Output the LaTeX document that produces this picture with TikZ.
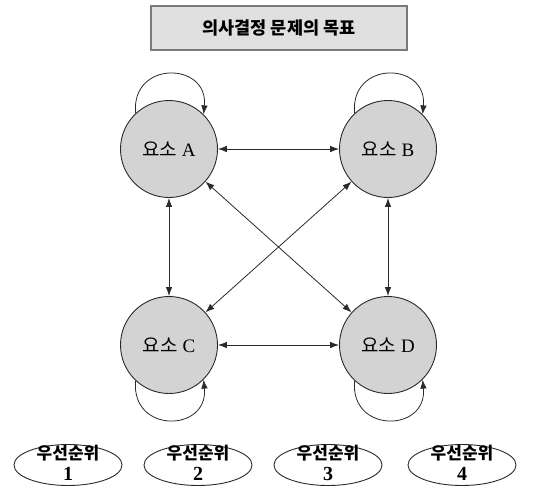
\documentclass[tikz,border=0pt]{standalone}
\usepackage{fontspec}
\setmainfont{Liberation Serif}
\newfontfamily\kr{Noto Sans CJK KR}
\usetikzlibrary{arrows.meta,shapes.geometric}
\definecolor{boxfill}{HTML}{E0E0E0}
\definecolor{boxline}{HTML}{7A7A7A}
\definecolor{elemfill}{HTML}{D3D3D3}
\definecolor{inkc}{HTML}{2A2A2A}
\begin{document}
\begin{tikzpicture}[x=1pt,y=-1pt,
  titlebox/.style={draw=boxline,fill=boxfill,line width=1.8pt,minimum width=256pt,minimum height=44pt,inner sep=0pt,font=\kr\bfseries\fontsize{17.5}{20}\selectfont},
  elem/.style={circle,draw=inkc,fill=elemfill,line width=0.9pt,minimum size=97pt,inner sep=0pt,font=\fontsize{19}{21}\selectfont},
  conn/.style={draw=inkc,line width=0.8pt,{Latex[length=9pt,width=6.5pt]}-{Latex[length=9pt,width=6.5pt]}},
  selfloop/.style={draw=inkc,line width=0.8pt,-{Latex[length=9pt,width=6.5pt]}},
  prio/.style={ellipse,draw=inkc,line width=0.9pt,minimum width=108pt,minimum height=41pt,inner sep=0pt},
  priotext/.style={align=center,inner sep=0pt,font=\kr\bfseries\fontsize{17}{21}\selectfont}
]
\useasboundingbox (0,0) rectangle (551,490);
\fill[white] (0,0) rectangle (551,490);

\node[titlebox] (title) at (279,28) {의사결정 문제의 목표};

\node[elem] (A) at (169,149) {{\kr 요소} A};
\node[elem] (B) at (388,149) {{\kr 요소} B};
\node[elem] (C) at (169,345) {{\kr 요소} C};
\node[elem] (D) at (388,345) {{\kr 요소} D};

\draw[conn] (A) -- (B);
\draw[conn] (C) -- (D);
\draw[conn] (A) -- (C);
\draw[conn] (B) -- (D);
\draw[conn] (A) -- (D);
\draw[conn] (B) -- (C);

\draw[selfloop] (A.133) .. controls +(-5,-53) and +(5,-53) .. (A.45);
\draw[selfloop] (B.133) .. controls +(-5,-53) and +(5,-53) .. (B.45);
\draw[selfloop] (C.227) .. controls +(-5,53) and +(5,53) .. (C.-45);
\draw[selfloop] (D.227) .. controls +(-5,53) and +(5,53) .. (D.-45);

\node[prio] (p1) at (68,465) {};
\node[prio] (p2) at (198,465) {};
\node[prio] (p3) at (328,465) {};
\node[prio] (p4) at (462,465) {};
\node[priotext] (t1) at (68,463) {우선순위\\{\rmfamily\fontsize{20}{21}\selectfont 1}};
\node[priotext] (t2) at (198,463) {우선순위\\{\rmfamily\fontsize{20}{21}\selectfont 2}};
\node[priotext] (t3) at (328,463) {우선순위\\{\rmfamily\fontsize{20}{21}\selectfont 3}};
\node[priotext] (t4) at (462,463) {우선순위\\{\rmfamily\fontsize{20}{21}\selectfont 4}};
\end{tikzpicture}
\end{document}
